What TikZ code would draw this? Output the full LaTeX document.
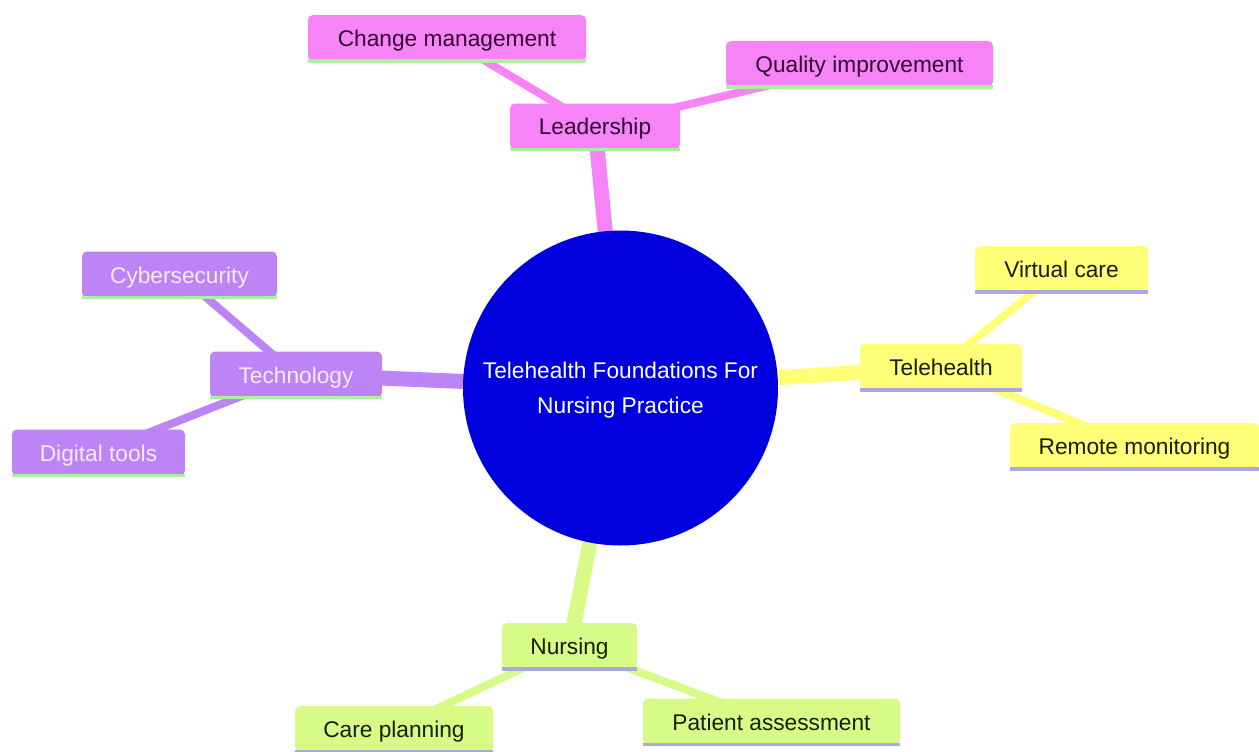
\documentclass[tikz,border=0pt]{standalone}
\usepackage{fontspec}
\setmainfont{Liberation Sans}
\usetikzlibrary{backgrounds}
\definecolor{pinkc}{RGB}{246,132,246}
\definecolor{purpc}{RGB}{189,132,246}
\definecolor{yellc}{RGB}{255,255,120}
\definecolor{limec}{RGB}{214,252,135}
\definecolor{rootc}{RGB}{0,0,222}
\definecolor{greenline}{RGB}{170,240,160}
\definecolor{lavline}{RGB}{170,168,222}
\definecolor{pinktext}{RGB}{50,10,50}
\definecolor{purptext}{RGB}{245,235,255}
\definecolor{darktext}{RGB}{25,30,10}
\tikzset{
  every node/.style={font=\fontsize{22.7}{35}\selectfont},
  box/.style={rounded corners=5pt, inner sep=0pt, align=center, text height=22pt, text depth=5pt},
  pinkbox/.style={box, fill=pinkc, text=pinktext},
  purpbox/.style={box, fill=purpc, text=purptext},
  yellbox/.style={box, fill=yellc, text=darktext},
  limebox/.style={box, fill=limec, text=darktext},
  rootnode/.style={circle, fill=rootc, text=white, minimum size=315pt, inner sep=0pt, align=center},
  thick edge/.style={line width=15pt},
  thin edge/.style={line width=8pt},
  under/.style={line width=3.5pt}
}
\newcommand{\bx}[6]{% name, style, x, y, w, text
  \node[#2, minimum width=#5pt, minimum height=46pt] (#1) at (#3,#4) {#6};}
\begin{document}
\begin{tikzpicture}[x=1pt,y=-1pt]
\useasboundingbox (0,0) rectangle (1259,752);
% nodes
\node[rootnode] (root) at (620.5,388) {\rule{0pt}{20pt}Telehealth Foundations For\\Nursing Practice};
\bx{lead}{pinkbox}{595}{126.5}{170}{Leadership}
\bx{chg}{pinkbox}{447}{38}{278}{Change management}
\bx{qual}{pinkbox}{859.5}{64}{267}{Quality improvement}
\bx{tele}{yellbox}{941}{367}{162}{Telehealth}
\bx{virt}{yellbox}{1061.5}{269}{173}{Virtual care}
\bx{rem}{yellbox}{1134.5}{446}{249}{Remote monitoring}
\bx{tech}{purpbox}{296}{374.5}{172}{Technology}
\bx{cyber}{purpbox}{179.5}{274.5}{195}{Cybersecurity}
\bx{digi}{purpbox}{98.5}{452.5}{173}{Digital tools}
\bx{nurs}{limebox}{569.5}{646}{135}{Nursing}
\bx{care}{limebox}{394}{729}{198}{Care planning}
\bx{pat}{limebox}{771.5}{721.5}{257}{Patient assessment}
% underlines
\draw[under, greenline] (lead.south west) -- (lead.south east);
\draw[under, greenline] (chg.south west) -- (chg.south east);
\draw[under, greenline] (qual.south west) -- (qual.south east);
\draw[under, greenline] (tech.south west) -- (tech.south east);
\draw[under, greenline] (cyber.south west) -- (cyber.south east);
\draw[under, greenline] (digi.south west) -- (digi.south east);
\draw[under, lavline] (tele.south west) -- (tele.south east);
\draw[under, lavline] (virt.south west) -- (virt.south east);
\draw[under, lavline] (rem.south west) -- (rem.south east);
\draw[under, lavline] (nurs.south west) -- (nurs.south east);
\draw[under, lavline] (care.south west) -- (care.south east);
\draw[under, lavline] (pat.south west) -- (pat.south east);
% edges
\begin{scope}[on background layer]
\fill[white] (0,0) rectangle (1259,752);
\draw[thick edge, pinkc] (root.center) -- (lead.center);
\draw[thick edge, purpc] (root.center) -- (tech.center);
\draw[thick edge, yellc] (root.center) -- (tele.center);
\draw[thick edge, limec] (root.center) -- (nurs.center);
\draw[thin edge, pinkc] (lead.center) -- (chg.center);
\draw[thin edge, pinkc] (lead.center) -- (qual.center);
\draw[thin edge, purpc] (tech.center) -- (cyber.center);
\draw[thin edge, purpc] (tech.center) -- (digi.center);
\draw[thin edge, yellc] (tele.center) -- (virt.center);
\draw[thin edge, yellc] (tele.center) -- (rem.center);
\draw[thin edge, limec] (nurs.center) -- (care.center);
\draw[thin edge, limec] (nurs.center) -- (pat.center);
\end{scope}
\end{tikzpicture}
\end{document}
